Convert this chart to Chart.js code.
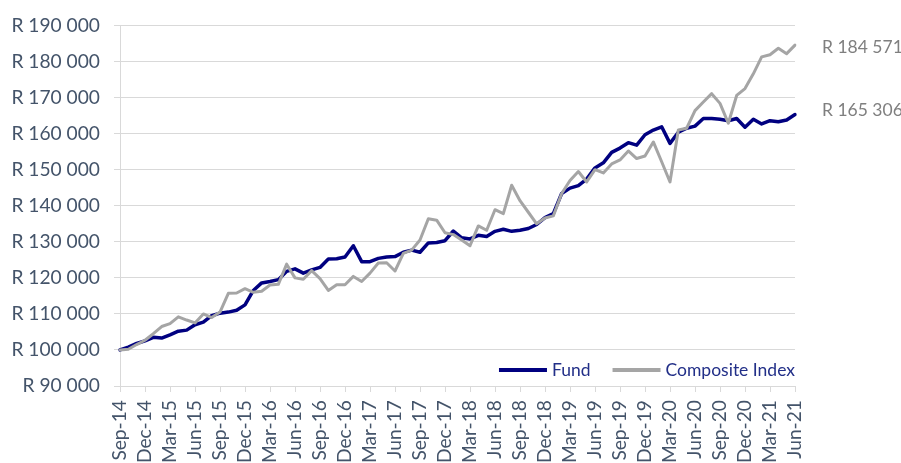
<!DOCTYPE html>
<html><head><meta charset="utf-8">
<script src="https://cdn.jsdelivr.net/npm/chart.js@4.4.1/dist/chart.umd.min.js"></script>
<style>html,body{margin:0;padding:0;background:#fff}#wrap{width:901px;height:463px;position:relative}</style>
</head><body><div id="wrap"><canvas id="c" width="901" height="463"></canvas></div>
<script>
const months = [
 'Sep-14','Oct-14','Nov-14','Dec-14',
 'Jan-15','Feb-15','Mar-15','Apr-15','May-15','Jun-15','Jul-15','Aug-15','Sep-15','Oct-15','Nov-15','Dec-15',
 'Jan-16','Feb-16','Mar-16','Apr-16','May-16','Jun-16','Jul-16','Aug-16','Sep-16','Oct-16','Nov-16','Dec-16',
 'Jan-17','Feb-17','Mar-17','Apr-17','May-17','Jun-17','Jul-17','Aug-17','Sep-17','Oct-17','Nov-17','Dec-17',
 'Jan-18','Feb-18','Mar-18','Apr-18','May-18','Jun-18','Jul-18','Aug-18','Sep-18','Oct-18','Nov-18','Dec-18',
 'Jan-19','Feb-19','Mar-19','Apr-19','May-19','Jun-19','Jul-19','Aug-19','Sep-19','Oct-19','Nov-19','Dec-19',
 'Jan-20','Feb-20','Mar-20','Apr-20','May-20','Jun-20','Jul-20','Aug-20','Sep-20','Oct-20','Nov-20','Dec-20',
 'Jan-21','Feb-21','Mar-21','Apr-21','May-21','Jun-21'
];
const fund = [
 100000,100800,101800,102500,103500,103300,104200,105200,105500,107000,
 107700,109500,110200,110500,111000,112500,116500,118600,119000,119500,
 121800,122500,121300,122200,122900,125200,125300,125800,128900,124500,
 124500,125400,125800,125900,127100,127700,127100,129700,129800,130300,
 133000,131100,130800,131800,131500,132900,133500,132900,133200,133700,
 134800,136700,137800,143400,144900,145600,147400,150500,151900,154800,
 156000,157500,156800,159700,161000,161900,157300,160400,161500,162100,
 164200,164200,164000,163600,164200,161800,164000,162700,163600,163300,
 163800,165306
];
const composite = [
 100000,100200,101500,102700,104500,106500,107300,109200,108300,107500,
 110000,109000,110500,115700,115800,117000,116000,116300,118000,118200,
 123800,120000,119600,122000,119800,116500,118100,118100,120400,119000,
 121300,124100,124200,121900,126800,127700,130500,136400,136000,132500,
 132000,130500,128900,134400,133200,138900,137800,145700,141400,138200,
 135000,136600,137200,143400,147000,149500,146600,150000,149100,151600,
 152700,155200,153100,153800,157700,152200,146600,161000,161500,166400,
 168800,171100,168400,162900,170600,172500,176600,181300,181900,183700,
 182200,184571
];
const seriesNames = ['Fund','Composite Index'];
const yMin = 90000, yMax = 190000, yStep = 10000;

function fmtR(v){ return 'R ' + String(Math.round(v)).replace(/\B(?=(\d{3})+(?!\d))/g,' '); }

const FONT = 'Lato, "Open Sans", sans-serif';
const FS_TICK = 19.2;
const FS = 17.5;
const FUND_COLOR = '#000080', COMP_COLOR = '#a5a5a5';

const endLabels = {
  id: 'endLabels',
  afterDatasetsDraw(chart){
    const ctx = chart.ctx;
    ctx.save();
    ctx.font = FS + 'px ' + FONT;
    ctx.fillStyle = '#7f7f7f';
    ctx.textAlign = 'left';
    ctx.textBaseline = 'middle';
    chart.data.datasets.forEach((ds, i) => {
      const meta = chart.getDatasetMeta(i);
      const pt = meta.data[meta.data.length - 1];
      const v = ds.data[ds.data.length - 1];
      ctx.fillText(fmtR(v), pt.x + 27, pt.y + (ds.labelDy || 0));
    });
    ctx.restore();
  }
};

const innerLegend = {
  id: 'innerLegend',
  afterDraw(chart){
    const ctx = chart.ctx, a = chart.chartArea;
    ctx.save();
    ctx.font = FS + 'px ' + FONT;
    ctx.textBaseline = 'middle';
    ctx.textAlign = 'left';
    const items = [
      {text: seriesNames[0], color: FUND_COLOR, w: 4},
      {text: seriesNames[1], color: COMP_COLOR, w: 4}
    ];
    const sample = 48, gap = 5, between = 22;
    let total = 0;
    items.forEach((it, k) => { it.tw = ctx.measureText(it.text).width; total += sample + gap + it.tw + (k ? between : 0); });
    let x = a.right - total;
    const y = a.bottom - 16;
    items.forEach((it, k) => {
      if (k) x += between;
      ctx.strokeStyle = it.color; ctx.lineWidth = it.w; ctx.lineCap = 'butt';
      ctx.beginPath(); ctx.moveTo(x, y); ctx.lineTo(x + sample, y); ctx.stroke();
      x += sample + gap;
      ctx.fillStyle = '#222f88';
      ctx.fillText(it.text, x, y);
      x += it.tw;
    });
    ctx.restore();
  }
};

new Chart(document.getElementById('c'), {
  type: 'line',
  data: {
    labels: months,
    datasets: [
      {label: seriesNames[0], data: fund, borderColor: FUND_COLOR, backgroundColor: FUND_COLOR,
       borderWidth: 3.5, pointRadius: 0, tension: 0, borderJoinStyle: 'round', borderCapStyle: 'round', order: 1, labelDy: -4},
      {label: seriesNames[1], data: composite, borderColor: COMP_COLOR, backgroundColor: COMP_COLOR,
       borderWidth: 3, pointRadius: 0, tension: 0, borderJoinStyle: 'round', borderCapStyle: 'round', order: 0, labelDy: 2}
    ]
  },
  options: {
    responsive: false,
    animation: false,
    devicePixelRatio: 1,
    layout: {padding: {left: 0, top: 21, right: 106, bottom: 0}},
    plugins: {legend: {display: false}, tooltip: {enabled: false}},
    scales: {
      x: {
        offset: false,
        grid: {
          display: true, drawOnChartArea: false, drawTicks: true, tickLength: 6,
          color: ctx => (ctx.index % 3 === 0 ? '#d9d9d9' : 'rgba(0,0,0,0)'),
          tickColor: ctx => (ctx.index % 3 === 0 ? '#d9d9d9' : 'rgba(0,0,0,0)')
        },
        border: {display: true, color: '#d9d9d9'},
        ticks: {
          autoSkip: false, minRotation: 90, maxRotation: 90, padding: 8,
          color: '#44546a', font: {family: FONT, size: FS_TICK},
          callback: (v, i) => (i % 3 === 0 ? months[i] : '')
        },
        afterFit: s => { s.height = 77; }
      },
      y: {
        min: yMin, max: yMax,
        grid: {color: '#d9d9d9', lineWidth: 1, tickLength: 6, drawTicks: true},
        border: {display: true, color: '#d9d9d9'},
        ticks: {stepSize: yStep, padding: 14, color: '#44546a', font: {family: FONT, size: FS_TICK},
          callback: v => fmtR(v)},
        afterFit: s => { s.width = 120; }
      }
    }
  },
  plugins: [endLabels, innerLegend]
});
</script>
</body></html>
